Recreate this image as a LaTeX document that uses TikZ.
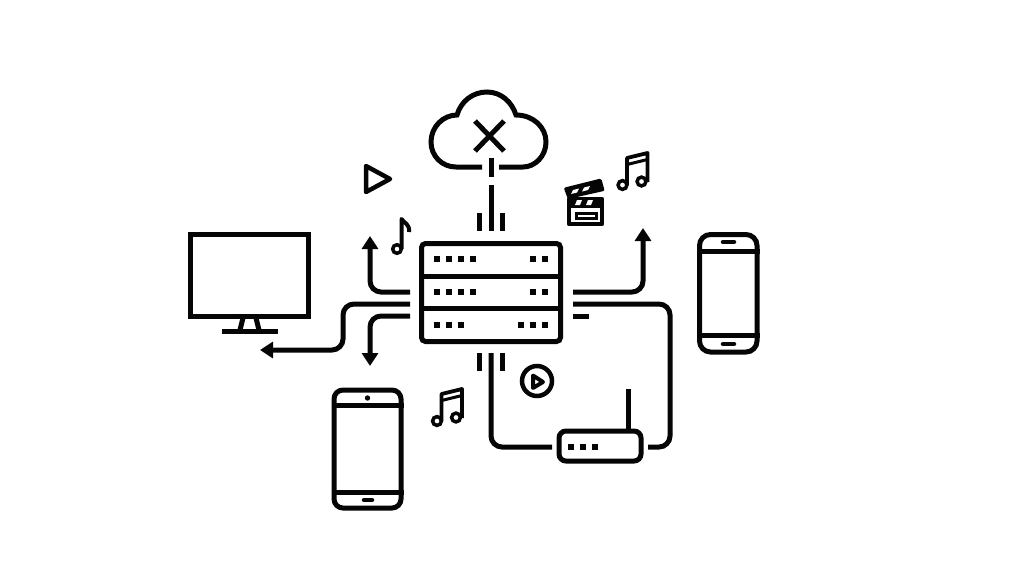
\documentclass[tikz,border=0pt]{standalone}
\usepackage{tikz}
\usetikzlibrary{arrows.meta}
\definecolor{ink}{HTML}{050505}
\def\ledsq(#1,#2){\fill[ink] (#1-2.8, #2-2.8) rectangle (#1+2.8, #2+2.8);}
\def\twonotes(#1,#2){\begin{scope}[shift={(#1,#2)}]
	\draw[line width=3.5pt, color=ink] (0, 0) circle (4.4);
	\draw[line width=3.5pt, color=ink] (19, -3.5) circle (4.4);
	\draw[line width=3.8pt, color=ink, line join=round] (4.5, 0) -- (4.5, -27) -- (25, -32) -- (25, -3);
	\draw[line width=3pt, color=ink] (4.5, -20.5) -- (25, -25.5);
\end{scope}}
\tikzset{
	outline/.style={draw=ink, line width=5pt},
	wire/.style={draw=ink, line width=5pt, rounded corners=11pt},
	tipped/.style={wire, -{Triangle[width=16pt, length=13pt]}},
	phonebody/.style={outline, rounded corners=9pt, inner sep=0pt},
	serverbox/.style={outline, rounded corners=4pt, inner sep=0pt, minimum width=139pt, minimum height=98pt},
	routerbox/.style={outline, rounded corners=7pt, inner sep=0pt, minimum width=82pt, minimum height=30pt},
	screenbox/.style={outline, inner sep=0pt, minimum width=118pt, minimum height=82pt},
}

\begin{document}
\begin{tikzpicture}[x=1pt, y=-1pt]
	%%%%% START %%%%%
	\useasboundingbox (0, 0) rectangle (1024, 576);

	% cloud
	\draw[outline] (482, 167) -- (456, 167) .. controls (442, 167) and (431, 156) .. (431, 142)
		.. controls (431, 127) and (443, 115) .. (457, 115) .. controls (461, 101) and (473, 92) .. (487, 92)
		.. controls (501, 92) and (512, 102) .. (516, 115) .. controls (533, 115) and (546, 127) .. (546, 142)
		.. controls (546, 156) and (535, 167) .. (523, 167) -- (499, 167);
	\draw[outline] (475, 121) -- (504, 151);
	\draw[outline] (504, 121) -- (475, 151);

	% server
	\node[serverbox] (server) at (491, 292.5) {};
	\draw[outline] (server.west |- 0, 276) -- (server.east |- 0, 276);
	\draw[outline] (server.west |- 0, 308) -- (server.east |- 0, 308);
	\ledsq(437,259) \ledsq(449,259) \ledsq(461,259) \ledsq(473,259) \ledsq(533,259) \ledsq(545,259)
	\ledsq(437,292) \ledsq(449,292) \ledsq(461,292) \ledsq(473,292) \ledsq(533,292) \ledsq(545,292)
	\ledsq(437,325) \ledsq(449,325) \ledsq(461,325) \ledsq(521,325) \ledsq(533,325) \ledsq(545,325)

	% uplink to the cloud
	\coordinate (upA) at (491, 158);
	\coordinate (upB) at (491, 177);
	\coordinate (upC) at (491, 185);
	\coordinate (upD) at (491, 231);
	\coordinate (upE) at (479, 213);
	\coordinate (upF) at (479, 231);
	\coordinate (upG) at (502, 213);
	\coordinate (upH) at (502, 231);
	\draw[wire] (upA) -- (upB);
	\draw[wire] (upC) -- (upD);
	\draw[wire] (upE) -- (upF);
	\draw[wire] (upG) -- (upH);

	% connectors on the left
	\coordinate (leftA) at (410, 292);
	\coordinate (leftB) at (410, 304);
	\coordinate (leftC) at (410, 316);
	\coordinate (tipA) at (370, 236);
	\coordinate (tipB) at (260, 350);
	\coordinate (tipC) at (370, 366);
	\draw[tipped] (leftA) -| (tipA);
	\draw[tipped] (leftB) -- (343, 304) -- (343, 350) -- (tipB);
	\draw[tipped] (leftC) -| (tipC);

	% connectors on the right
	\coordinate (rightA) at (573, 292);
	\coordinate (rightB) at (573, 304);
	\coordinate (rightC) at (573, 316);
	\coordinate (rightD) at (589, 316);
	\coordinate (tipD) at (643, 228);
	\coordinate (routerE) at (648, 447);
	\draw[tipped] (rightA) -| (tipD);
	\draw[wire] (rightB) -- (670, 304) -- (670, 447) -- (routerE);
	\draw[wire] (rightC) -- (rightD);

	% below the server
	\coordinate (downA) at (479, 353);
	\coordinate (downB) at (479, 371);
	\coordinate (downC) at (502, 353);
	\coordinate (downD) at (502, 371);
	\coordinate (downE) at (491, 353);
	\coordinate (routerW) at (552, 447);
	\draw[wire] (downA) -- (downB);
	\draw[wire] (downC) -- (downD);
	\draw[wire] (downE) -- (491, 447) -- (routerW);

	% router
	\node[routerbox] (router) at (600, 446) {};
	\coordinate (aerial) at (628, 389);
	\draw[outline] (aerial) -- (aerial |- router.north);
	\ledsq(571,447) \ledsq(583,447) \ledsq(595,447)

	% monitor
	\node[screenbox] (monitor) at (249.5, 275.5) {};
	\draw[outline] (243, 318) -- (240, 330);
	\draw[outline] (256, 318) -- (259, 330);
	\draw[outline] (222, 331) -- (278, 331);

	% phone, left
	\node[phonebody, minimum width=67pt, minimum height=118pt] (phoneL) at (367.5, 449) {};
	\draw[outline] (phoneL.west |- 0, 405) -- (phoneL.east |- 0, 405);
	\draw[outline] (phoneL.west |- 0, 492) -- (phoneL.east |- 0, 492);
	\fill[ink] (367.5, 398) circle (2.7);
	\draw[outline, line width=4.5pt, line cap=round] (364, 500) -- (372, 500);

	% phone, right
	\node[phonebody, rounded corners=11pt, minimum width=57.5pt, minimum height=117.5pt] (phoneR) at (728.25, 293.25) {};
	\draw[outline] (phoneR.west |- 0, 251) -- (phoneR.east |- 0, 251);
	\draw[outline] (phoneR.west |- 0, 335) -- (phoneR.east |- 0, 335);
	\draw[outline, line width=4.5pt, line cap=round] (723, 242) -- (734, 242);
	\draw[outline, line width=4.5pt, line cap=round] (723, 344) -- (734, 344);

	% play marks
	\draw[outline, line width=4.5pt, line join=round] (366, 166) -- (366, 192) -- (390, 179) -- cycle;
	\draw[outline, line width=4.5pt] (537, 381) circle (15);
	\draw[outline, line width=4pt, line join=round] (533, 375.5) -- (533, 388) -- (543, 382) -- cycle;

	% notes
	\draw[line width=3.5pt, color=ink] (397, 249) circle (4.3);
	\draw[line width=4pt, color=ink, line join=round] (401.5, 249) -- (401.5, 219) .. controls (404, 223) and (410, 224) .. (409, 232);
	\twonotes(437,421)
	\twonotes(622.5,185)

	% clapper
	\draw[outline, line width=4.5pt, line join=round, fill=ink] (569, 199) rectangle (602, 224);
	\fill[white] (571.3, 207.5) rectangle (599.7, 221.7);
	\draw[ink, line width=3pt] (576, 213) rectangle (596, 218);
	\draw[outline, line width=3.5pt, line join=round, fill=ink] (566, 189) -- (600, 180.5) -- (602.5, 189.5) -- (569, 197) -- cycle;
	\fill[white] (573, 190) -- (579, 188.5) -- (577, 192.5) -- (571, 194) -- cycle;
	\fill[white] (584, 187.5) -- (590, 186) -- (588, 190) -- (582, 191.5) -- cycle;
	\fill[white] (577, 200) -- (582, 200) -- (580, 205) -- (575, 205) -- cycle;
	\fill[white] (588, 200) -- (593, 200) -- (591, 205) -- (586, 205) -- cycle;

	%%%%% END %%%%%
\end{tikzpicture}
\end{document}
